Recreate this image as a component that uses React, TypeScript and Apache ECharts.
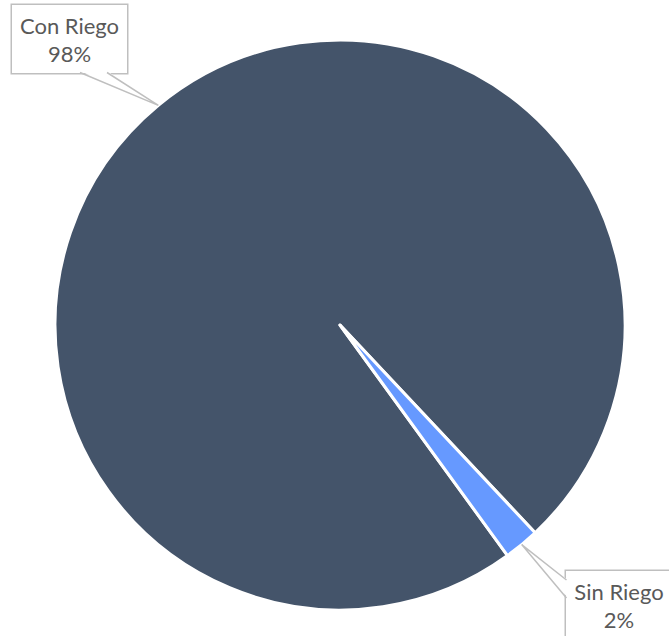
import React, { useEffect, useRef } from 'react';
import * as echarts from 'echarts';

const categories = ['Con Riego', 'Sin Riego'];
const values = [98, 2];
const colors = ['#44546A', '#6699FF'];

export default function App() {
  const ref = useRef<HTMLDivElement>(null);
  useEffect(() => {
    const chart = echarts.init(ref.current!, null, { renderer: 'svg' });
    const cx = 340, cy = 325, r = 285, startAngle = 306;
    const total = values.reduce((a, b) => a + b, 0);
    let acc = 0;
    const mids = values.map((v) => {
      const m = startAngle - ((acc + v / 2) / total) * 360;
      acc += v;
      return m;
    });
    const tips = mids.map((a) => [cx + r * Math.cos((a * Math.PI) / 180), cy - r * Math.sin((a * Math.PI) / 180)]);
    const bases = [
      [[80, 72.5], [107, 72.5]],
      [[566.5, 580], [566.5, 598]],
    ];
    const cover = [
      [[80, 71], [107, 71]],
      [[568, 580], [568, 598]],
    ];
    const labelPos = [
      { x: 69.5, y: 39 },
      { x: 619, y: 605 },
    ];
    const labelWidths = [101, 92];
    const graphic: any[] = [];
    tips.forEach((t, i) => {
      graphic.push({
        type: 'polygon',
        z: 100,
        shape: { points: [cover[i][0], t, cover[i][1]] },
        style: { fill: '#ffffff', stroke: null },
      });
      graphic.push({
        type: 'polyline',
        z: 101,
        shape: { points: [bases[i][0], t, bases[i][1]] },
        style: { fill: null, stroke: '#BFBFBF', lineWidth: 1.5 },
      });
    });
    chart.setOption({
      animation: false,
      backgroundColor: '#ffffff',
      graphic,
      series: [
        {
          type: 'pie',
          center: [cx, cy],
          radius: r,
          startAngle,
          clockwise: true,
          data: categories.map((c, i) => ({
            name: c,
            value: values[i],
            itemStyle: { color: colors[i] },
            label: { width: labelWidths[i] },
          })),
          itemStyle: { borderColor: '#ffffff', borderWidth: 3 },
          label: {
            show: true,
            position: 'outside',
            formatter: (p: any) => `${p.name}\n${Math.round(p.percent)}%`,
            fontFamily: 'Lato',
            fontSize: 22,
            lineHeight: 28,
            color: '#595959',
            align: 'center',
            backgroundColor: '#ffffff',
            borderColor: '#BFBFBF',
            borderWidth: 1.5,
            padding: [6, 7],
          },
          labelLine: { show: false },
          labelLayout: (params: any) => ({
            x: labelPos[params.dataIndex].x,
            y: labelPos[params.dataIndex].y,
            align: 'center',
            verticalAlign: 'middle',
          }),
          emphasis: { disabled: true },
        },
      ],
    });
    return () => chart.dispose();
  }, []);
  return (
    <div
      ref={ref}
      style={{ position: 'fixed', left: 0, top: 0, width: 669, height: 636 }}
    />
  );
}
